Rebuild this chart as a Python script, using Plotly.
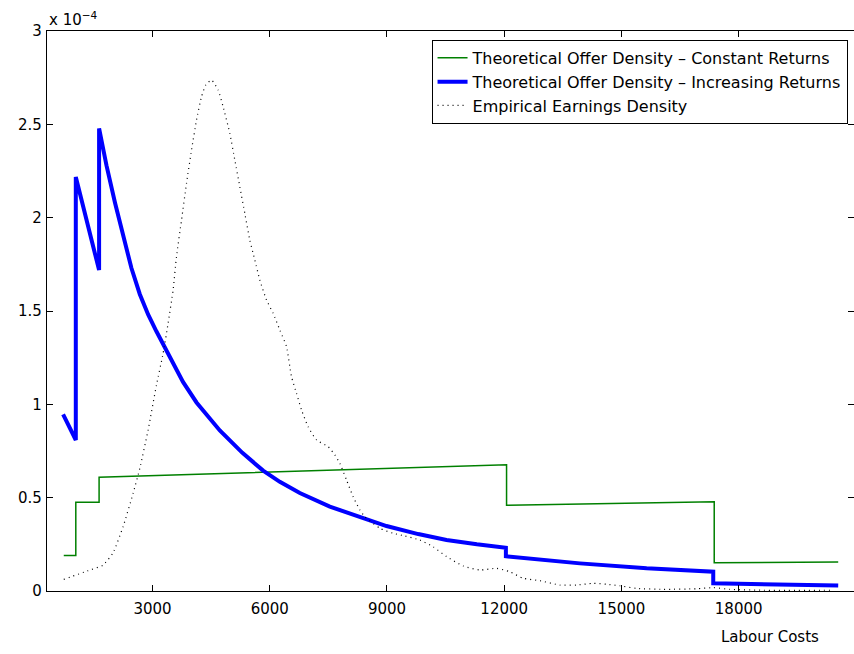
import plotly.graph_objects as go

# Labour cost grid points and densities (units of 1e-4)
const_x = [729, 1037, 1037, 1633, 1633, 12060, 12060, 17374, 17374, 20547]
const_y = [0.19, 0.19, 0.475, 0.475, 0.61, 0.676, 0.459, 0.478, 0.152, 0.155]

incr_x = [712, 1037, 1037, 1633, 1633, 1822, 2040, 2248, 2460, 2675, 2890, 3102,
          3443, 3780, 4126, 4722, 5300, 5831, 6258, 6770, 7538, 8562, 8988, 9800,
          10524, 11300, 12043, 12043, 13937, 15644, 17349, 17349, 20547]
incr_y = [0.946, 0.809, 2.218, 1.719, 2.478, 2.28, 2.08, 1.90, 1.73, 1.59, 1.48,
          1.39, 1.25, 1.12, 1.01, 0.86, 0.74, 0.645, 0.585, 0.525, 0.452, 0.375,
          0.348, 0.305, 0.273, 0.25, 0.232, 0.186, 0.148, 0.1214, 0.1036, 0.041,
          0.030]

emp_x = [729, 1352, 1736, 1991, 2248, 2503, 2675, 2887, 3102, 3271, 3399, 3527,
         3614, 3742, 3870, 3998, 4126, 4254, 4364, 4510, 4679, 4807, 4978, 5106,
         5234, 5362, 5490, 5618, 5746, 5917, 6087, 6258, 6429, 6557, 6685, 6813,
         6982, 7197, 7494, 7666, 7794, 7965, 8134, 8306, 8434, 8818, 9158, 9457,
         9841, 10182, 10524, 10950, 11377, 11804, 12145, 12485, 12913, 13425,
         13852, 14277, 14620, 14960, 15388, 16069, 16923, 17349, 17776, 18628,
         20379]
emp_y = [0.062, 0.109, 0.139, 0.205, 0.345, 0.523, 0.657, 0.862, 1.104, 1.273,
         1.434, 1.612, 1.791, 1.987, 2.184, 2.362, 2.523, 2.648, 2.711, 2.737,
         2.684, 2.594, 2.452, 2.309, 2.166, 2.023, 1.880, 1.773, 1.666, 1.559,
         1.488, 1.398, 1.309, 1.148, 1.059, 0.970, 0.880, 0.809, 0.773, 0.729,
         0.684, 0.595, 0.505, 0.434, 0.398, 0.336, 0.309, 0.295, 0.273, 0.237,
         0.184, 0.134, 0.1125, 0.1215, 0.103, 0.068, 0.055, 0.032, 0.032, 0.041,
         0.036, 0.028, 0.014, 0.009, 0.012, 0.018, 0.009, 0.004, 0.004]

x_ticks = [3000, 6000, 9000, 12000, 15000, 18000]
y_ticks = [0, 0.5, 1, 1.5, 2, 2.5, 3]
y_tick_labels = ["0", "0.5", "1", "1.5", "2", "2.5", "3"]

names = ["Theoretical Offer Density \u2013 Constant Returns",
         "Theoretical Offer Density \u2013 Increasing Returns",
         "Empirical Earnings Density"]

FONT = "DejaVu Sans"

fig = go.Figure()
fig.add_trace(go.Scatter(x=const_x, y=const_y, mode="lines", name=names[0],
                         line=dict(color="#008000", width=1.5)))
fig.add_trace(go.Scatter(x=incr_x, y=incr_y, mode="lines", name=names[1],
                         line=dict(color="#0000ff", width=4)))
fig.add_trace(go.Scatter(x=emp_x, y=emp_y, mode="lines", name=names[2],
                         line=dict(color="black", width=1.2, dash="1px,4px"),
                         line_shape="spline", line_smoothing=0.5))

axis_common = dict(showgrid=False, zeroline=False, showline=True, linecolor="black",
                   linewidth=1.2, ticks="inside", ticklen=6, tickcolor="black",
                   mirror="ticks", automargin=False,
                   tickfont=dict(family=FONT, size=15, color="black"))

fig.update_xaxes(range=[300, 20951], tickvals=x_ticks,
                 ticktext=[str(v) for v in x_ticks], ticklabelstandoff=4,
                 **axis_common)
fig.update_yaxes(range=[0, 3], tickvals=y_ticks, ticktext=y_tick_labels,
                 ticklabelstandoff=1, **axis_common)

fig.add_annotation(text="x 10<sup>\u22124</sup>", xref="paper", yref="paper",
                   x=0, y=1, xanchor="left", yanchor="bottom", showarrow=False,
                   font=dict(family=FONT, size=15, color="black"), xshift=0, yshift=0)
fig.add_annotation(text="Labour Costs", xref="paper", yref="paper",
                   x=0.896, y=-0.082, xanchor="center", yanchor="middle",
                   showarrow=False, font=dict(family=FONT, size=15, color="black"))

fig.update_layout(
    width=854, height=654,
    margin=dict(l=47, r=0, t=31, b=63),
    paper_bgcolor="white", plot_bgcolor="white",
    font=dict(family=FONT, size=15, color="black"),
    legend=dict(x=0.992, y=0.984, xanchor="right", yanchor="top",
                bordercolor="black", borderwidth=1, bgcolor="white",
                font=dict(family=FONT, size=16, color="black"),
                tracegroupgap=0, itemwidth=30),
    showlegend=True,
)

fig.write_html("out.html", config={"displayModeBar": False},
               post_script="document.body.style.margin='0';document.body.style.overflow='hidden';")
